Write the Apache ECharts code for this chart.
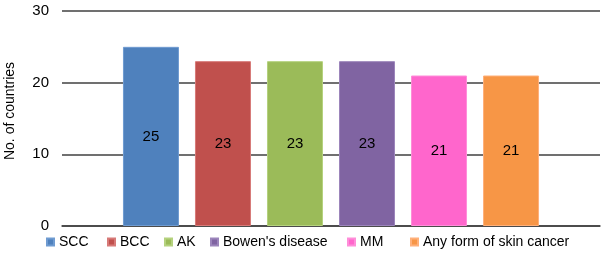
<!DOCTYPE html>
<html>
<head>
<meta charset="utf-8">
<script src="https://cdn.jsdelivr.net/npm/echarts@6/dist/echarts.min.js"></script>
<style>
  html, body { margin: 0; padding: 0; background: #fff; }
  #chart { width: 605px; height: 254px; }
</style>
</head>
<body>
<div id="chart"></div>
<script>
const seriesNames = ['SCC', 'BCC', 'AK', "Bowen's disease", 'MM', 'Any form of skin cancer']
const values = [25, 23, 23, 23, 21, 21]
const colors = ['#4F81BD', '#C0504D', '#9BBB59', '#8064A2', '#FF66CC', '#F79646']
const borders = ['#6F9BD1', '#D77A78', '#B5D27E', '#9C85BB', '#FF8ED9', '#FFB07A']
const yTitle = 'No. of countries'
// legend item x positions (square left edge)
const legendX = [46, 107, 164, 210, 347, 410]

const chart = echarts.init(document.getElementById('chart'))
const font = 'Liberation Sans, Arial, sans-serif'

let option = {
  animation: false,
  textStyle: { fontFamily: font },
  legend: [],
  grid: {
    left: 62,
    right: 5,
    top: 11,
    bottom: 28,
    containLabel: false,
    outerBoundsMode: 'none'
  },
  // y axis title, sits a little above the middle of the axis like the original
  graphic: [{
    type: 'text',
    x: 10,
    y: 111,
    rotation: Math.PI / 2,
    style: {
      text: yTitle,
      fontSize: 14,
      fontFamily: font,
      fill: '#000',
      align: 'center',
      verticalAlign: 'middle'
    }
  }],
  xAxis: {
    type: 'category',
    data: [''],
    axisLine: { lineStyle: { color: '#404040', width: 1.5 } },
    axisTick: { show: false },
    axisLabel: { show: false }
  },
  yAxis: {
    type: 'value',
    min: 0,
    max: 30,
    interval: 10,
    axisLabel: { fontSize: 15, color: '#000', margin: 13, fontFamily: font },
    axisLine: { show: false },
    axisTick: { show: false },
    splitLine: { lineStyle: { color: '#404040', width: 1.5 } }
  },
  series: []
}

for (let i = 0; i < seriesNames.length; i++) {
  option.legend.push({
    left: legendX[i],
    top: 235,
    padding: 0,
    icon: 'rect',
    itemWidth: 7,
    itemHeight: 7,
    textStyle: { fontSize: 14, color: '#000', fontFamily: font },
    data: [seriesNames[i]]
  })
  option.series.push({
    name: seriesNames[i],
    type: 'bar',
    barWidth: 56,
    barGap: '28.6%',
    itemStyle: { color: colors[i], borderColor: borders[i], borderWidth: 1 },
    label: {
      show: true,
      position: 'inside',
      color: '#000',
      fontSize: 15,
      fontFamily: font
    },
    data: [values[i]]
  })
}

chart.setOption(option)
</script>
</body>
</html>
